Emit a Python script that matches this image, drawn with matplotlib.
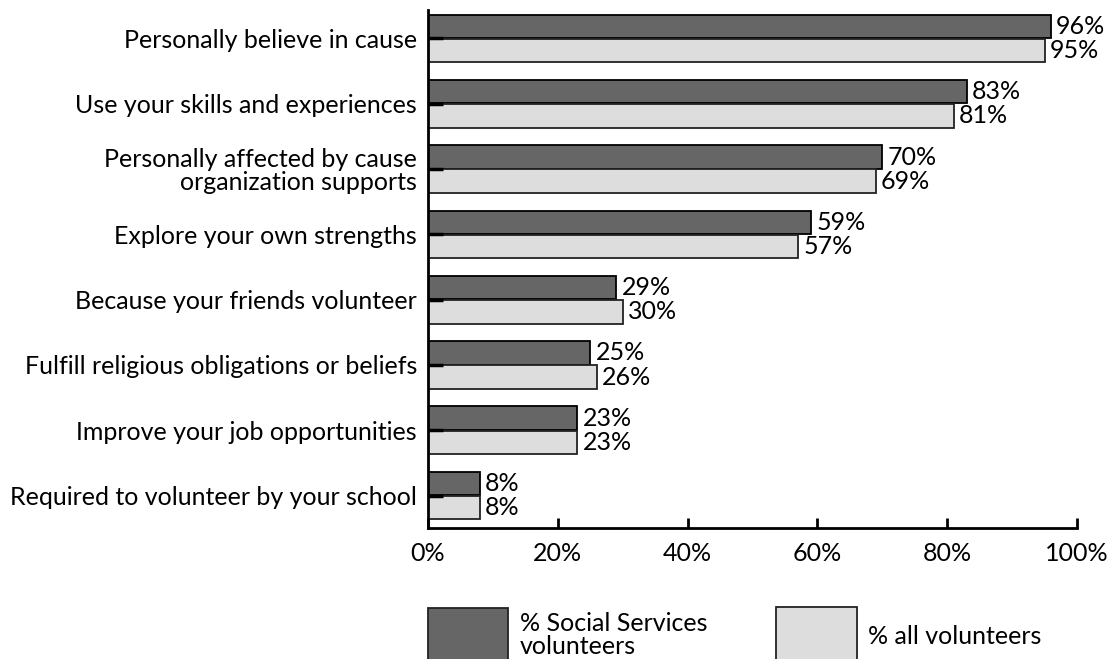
import matplotlib.pyplot as plt
from matplotlib.patches import Rectangle

plt.rcParams['font.family'] = ['Lato', 'DejaVu Sans']

categories = [
    "Personally believe in cause",
    "Use your skills and experiences",
    "Personally affected by cause\norganization supports",
    "Explore your own strengths",
    "Because your friends volunteer",
    "Fulfill religious obligations or beliefs",
    "Improve your job opportunities",
    "Required to volunteer by your school",
]
social_services = [96, 83, 70, 59, 29, 25, 23, 8]
all_volunteers = [95, 81, 69, 57, 30, 26, 23, 8]
series_names = ["% Social Services\nvolunteers", "% all volunteers"]
x_ticks = [0, 20, 40, 60, 80, 100]

dark = '#666666'
light = '#dddddd'
fs = 18

fig = plt.figure(figsize=(11.12, 6.59), dpi=100)
ax = fig.add_axes([428 / 1112, 1 - 528 / 659, 649 / 1112, 518 / 659])

pos = list(range(len(categories)))
h = 0.36
dark_bars = ax.barh([p - 0.185 for p in pos], social_services, height=h,
                    color=dark, edgecolor='black', linewidth=1.3)
light_bars = ax.barh([p + 0.185 for p in pos], all_volunteers, height=h,
                     color=light, edgecolor='#222222', linewidth=1.3)

for bars, vals in ((dark_bars, social_services), (light_bars, all_volunteers)):
    for b, v in zip(bars, vals):
        ax.text(b.get_width() + 0.8, b.get_y() + b.get_height() / 2, f"{v}%",
                va='center', ha='left', fontsize=fs)

ax.set_xlim(0, 100)
ax.set_ylim(7.496, -0.436)
ax.set_yticks(pos)
ax.set_yticklabels(categories, fontsize=fs, linespacing=1.0)
ax.set_xticks(x_ticks)
ax.set_xticklabels([f"{t}%" for t in x_ticks], fontsize=fs)

for s in ('top', 'right'):
    ax.spines[s].set_visible(False)
for s in ('left', 'bottom'):
    ax.spines[s].set_linewidth(2)
ax.tick_params(axis='y', direction='in', length=11, width=2.5, pad=8, zorder=5)
ax.tick_params(axis='x', direction='in', length=7, width=2, pad=10)
ax.set_axisbelow(False)

# legend drawn as large swatches along the bottom edge
W, H = 1112, 659
fig.add_artist(Rectangle((428 / W, 1 - 665 / H), 80 / W, 57 / H,
                         transform=fig.transFigure, facecolor=dark,
                         edgecolor='#222222', linewidth=1.3, clip_on=False))
fig.text(520 / W, 1 - 635 / H, series_names[0], fontsize=fs, va='center',
         ha='left', linespacing=1.05)
fig.add_artist(Rectangle((776 / W, 1 - 665 / H), 81 / W, 58 / H,
                         transform=fig.transFigure, facecolor=light,
                         edgecolor='#222222', linewidth=1.3, clip_on=False))
fig.text(868 / W, 1 - 637 / H, series_names[1], fontsize=fs, va='center',
         ha='left')

fig.savefig('out.png', dpi=100)
